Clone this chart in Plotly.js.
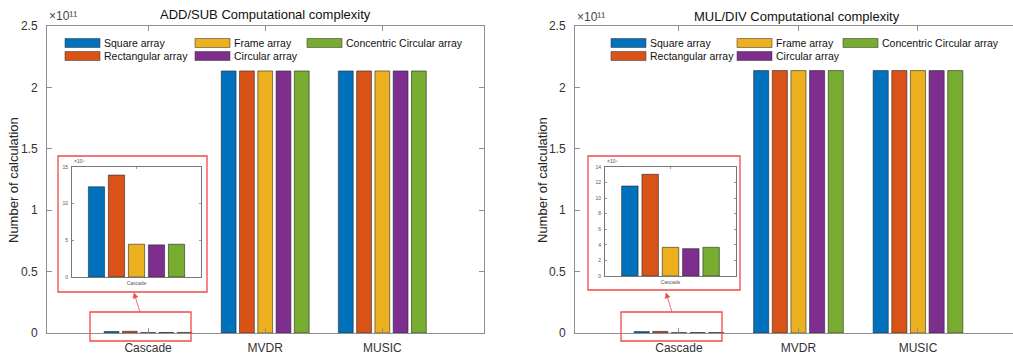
<!DOCTYPE html>
<html>
<head>
<meta charset="utf-8">
<script src="https://cdn.plot.ly/plotly-3.0.1.min.js"></script>
<style>html,body{margin:0;padding:0;background:#fff;}#chart{width:1013px;height:355px;}</style>
</head>
<body>
<div id="chart"></div>
<script>
// ---- data ----
const categories = ['Cascade', 'MVDR', 'MUSIC'];
const seriesNames = ['Square array', 'Rectangular array', 'Frame array', 'Circular array', 'Concentric Circular array'];
const seriesColors = ['#0072BD', '#D95319', '#EDB120', '#7E2F8E', '#77AC30'];

// ADD/SUB computational complexity
const addSquare      = [1.23e9, 2.134e11, 2.134e11];
const addRectangular = [1.39e9, 2.134e11, 2.134e11];
const addFrame       = [4.47e8, 2.134e11, 2.134e11];
const addCircular    = [4.38e8, 2.134e11, 2.134e11];
const addConcentric  = [4.47e8, 2.134e11, 2.134e11];

// MUL/DIV computational complexity
const mulSquare      = [1.156e9, 2.137e11, 2.137e11];
const mulRectangular = [1.306e9, 2.137e11, 2.137e11];
const mulFrame       = [3.68e8, 2.137e11, 2.137e11];
const mulCircular    = [3.51e8, 2.137e11, 2.137e11];
const mulConcentric  = [3.68e8, 2.137e11, 2.137e11];

const mainTickVals = [0, 0.5e11, 1e11, 1.5e11, 2e11, 2.5e11];
const mainTickText = ['0', '0.5', '1', '1.5', '2', '2.5'];
const insetAddTickVals = [0, 5e8, 10e8, 15e8];
const insetAddTickText = ['0', '5', '10', '15'];
const insetMulTickVals = [0, 2e8, 4e8, 6e8, 8e8, 10e8, 12e8, 14e8];
const insetMulTickText = ['0', '2', '4', '6', '8', '10', '12', '14'];

const titles = ['ADD/SUB Computational complexity', 'MUL/DIV Computational complexity'];
const yTitle = 'Number of calculation';
const mainExponent = '×10¹¹';
const insetExponent = '×10⁸';

// ---- build ----
const W = 1013, H = 355;
const px = v => v / W;
const py = v => 1 - v / H;

const addSets = [addSquare, addRectangular, addFrame, addCircular, addConcentric];
const mulSets = [mulSquare, mulRectangular, mulFrame, mulCircular, mulConcentric];

const traces = [];
function addBars(sets, xa, ya, xi, yi) {
  sets.forEach((vals, i) => {
    traces.push({
      type: 'bar', x: categories, y: vals, xaxis: xa, yaxis: ya,
      name: seriesNames[i], showlegend: false,
      marker: {color: seriesColors[i], line: {color: 'rgba(40,40,40,0.75)', width: 0.8}},
      hoverinfo: 'x+y+name'
    });
  });
  sets.forEach((vals, i) => {
    traces.push({
      type: 'bar', x: [categories[0]], y: [vals[0]], xaxis: xi, yaxis: yi,
      name: seriesNames[i], showlegend: false,
      marker: {color: seriesColors[i], line: {color: 'rgba(40,40,40,0.75)', width: 0.8}},
      hoverinfo: 'x+y+name'
    });
  });
}
addBars(addSets, 'x', 'y', 'x3', 'y3');
addBars(mulSets, 'x2', 'y2', 'x4', 'y4');

const fam = 'Liberation Sans, Arial, sans-serif';
const axLine = '#8f8f8f';
const tickFont = {family: fam, size: 12, color: '#333'};
function mainX(domain, range, anchor) {
  return {domain, range, anchor, type: 'category', categoryarray: categories,
    showline: true, linecolor: axLine, linewidth: 1, mirror: 'ticks',
    ticks: 'inside', ticklen: 5, tickcolor: axLine, tickfont: tickFont,
    ticklabelstandoff: 4, showgrid: false, zeroline: false, fixedrange: true};
}
function mainY(domain, anchor, mirror) {
  return {domain, anchor, range: [0, 2.5e11], tickvals: mainTickVals, ticktext: mainTickText,
    showline: true, linecolor: axLine, linewidth: 1, mirror: mirror,
    ticks: 'inside', ticklen: 5, tickcolor: axLine, tickfont: tickFont,
    ticklabelstandoff: 6, showgrid: false, zeroline: false, fixedrange: true};
}
const insetFont = {family: fam, size: 5, color: '#555'};
function insetX(domain, anchor) {
  return {domain, anchor, range: [-0.503, 0.503], type: 'category', categoryarray: [categories[0]],
    showline: true, linecolor: '#777', linewidth: 1, mirror: 'ticks',
    ticks: 'inside', ticklen: 2, tickcolor: '#999', tickfont: insetFont, ticklabelstandoff: 1,
    showgrid: false, zeroline: false, fixedrange: true};
}
function insetY(domain, anchor, range, tv, tt) {
  return {domain, anchor, range, tickvals: tv, ticktext: tt,
    showline: true, linecolor: '#777', linewidth: 1, mirror: 'ticks',
    ticks: 'inside', ticklen: 2, tickcolor: '#999', tickfont: insetFont, ticklabelstandoff: 2,
    showgrid: false, zeroline: false, fixedrange: true};
}

const yDom = [py(333), py(26)];
const layout = {
  width: W, height: H, margin: {l: 0, r: 0, t: 0, b: 0},
  paper_bgcolor: '#fff', plot_bgcolor: 'rgba(255,255,255,0)',
  barmode: 'group', bargap: 0.22, bargroupgap: 0.19,
  showlegend: false,
  xaxis: mainX([px(47), px(484)], [-0.863, 2.868], 'y'),
  yaxis: mainY(yDom, 'x', 'ticks'),
  xaxis2: mainX([px(575), 1], [-0.87, 2.795], 'y2'),
  yaxis2: mainY(yDom, 'x2', false),
  xaxis3: insetX([px(72), px(201)], 'y3'),
  yaxis3: insetY([py(277), py(167)], 'x3', [0, 15e8], insetAddTickVals, insetAddTickText),
  xaxis4: insetX([px(605), px(736)], 'y4'),
  yaxis4: insetY([py(276), py(167)], 'x4', [0, 14e8], insetMulTickVals, insetMulTickText),
  shapes: [], annotations: []
};

// titles
layout.annotations.push({xref: 'paper', yref: 'paper', x: px(265.5), y: py(15), text: titles[0], showarrow: false,
  xanchor: 'center', yanchor: 'middle', font: {family: fam, size: 13, color: '#111'}});
layout.annotations.push({xref: 'paper', yref: 'paper', x: px(797), y: py(16), text: titles[1], showarrow: false,
  xanchor: 'center', yanchor: 'middle', font: {family: fam, size: 13, color: '#111'}});
// y-axis titles
[13, 542].forEach(x => {
  layout.annotations.push({xref: 'paper', yref: 'paper', x: px(x), y: py(180), text: yTitle, showarrow: false,
    textangle: -90, xanchor: 'center', yanchor: 'middle', font: {family: fam, size: 13, color: '#262626'}});
});
// exponents
[[47, 16], [575, 17]].forEach(([x, y]) => {
  layout.annotations.push({xref: 'paper', yref: 'paper', x: px(x), y: py(y), text: mainExponent, showarrow: false,
    xanchor: 'left', yanchor: 'middle', font: {family: fam, size: 12, color: '#444'}});
});
[[72, 166], [605, 166]].forEach(([x, y]) => {
  layout.annotations.push({xref: 'paper', yref: 'paper', x: px(x), y: py(y), text: insetExponent, showarrow: false,
    xanchor: 'left', yanchor: 'bottom', font: {family: fam, size: 5, color: '#555'}});
});

// legends (drawn manually in MATLAB style)
function legend(cols, rows) {
  const pos = [[0, 0], [0, 1], [1, 0], [1, 1], [2, 0]];
  seriesNames.forEach((nm, i) => {
    const [c, r] = pos[i];
    const x0 = cols[c], yc = rows[r];
    layout.shapes.push({type: 'rect', xref: 'paper', yref: 'paper', x0: px(x0), x1: px(x0 + 35),
      y0: py(yc + 4.5), y1: py(yc - 4.5), fillcolor: seriesColors[i], line: {color: 'rgba(60,60,60,0.7)', width: 0.8}});
    layout.annotations.push({xref: 'paper', yref: 'paper', x: px(x0 + 37), y: py(yc), text: nm, showarrow: false,
      xanchor: 'left', yanchor: 'middle', font: {family: fam, size: 10.5, color: '#111'}});
  });
}
legend([65, 195, 307], [43, 56]);
legend([611, 737, 843], [43, 56]);

// red zoom boxes and arrows
const red = '#f04848';
[[58, 156, 207, 292], [90, 312, 191, 341], [588, 156, 740, 290], [621, 312, 722, 341]].forEach(([x0, y0, x1, y1]) => {
  layout.shapes.push({type: 'rect', xref: 'paper', yref: 'paper', x0: px(x0), x1: px(x1), y0: py(y1), y1: py(y0),
    line: {color: red, width: 1.3}, fillcolor: 'rgba(0,0,0,0)', layer: 'above'});
});
[[134, 293, 140, 312], [666, 293, 672, 312]].forEach(([hx, hy, tx, ty]) => {
  const dx = hx - tx, dy = hy - ty, L = Math.hypot(dx, dy);
  const ux = dx / L, uy = dy / L, nx = -uy, ny = ux;
  const bl = 5, hw = 2.5;
  const bx = hx - ux * bl, by = hy - uy * bl;
  layout.shapes.push({type: 'line', xref: 'paper', yref: 'paper', x0: px(tx), y0: py(ty), x1: px(bx), y1: py(by),
    line: {color: red, width: 0.8}, layer: 'above'});
  const p = [[hx, hy], [bx + nx * hw, by + ny * hw], [bx - nx * hw, by - ny * hw]];
  layout.shapes.push({type: 'path', xref: 'paper', yref: 'paper',
    path: 'M' + p.map(q => px(q[0]) + ',' + py(q[1])).join(' L') + ' Z',
    fillcolor: red, line: {color: red, width: 0.5}, layer: 'above'});
});

Plotly.newPlot('chart', traces, layout, {displayModeBar: false, staticPlot: true}).then(gd => {
  // drop empty placeholder text nodes (unused axis titles)
  gd.querySelectorAll('text').forEach(t => { if (!t.textContent.replace(/[\s\u200b]/g, '')) t.remove(); });
});
</script>
</body>
</html>
